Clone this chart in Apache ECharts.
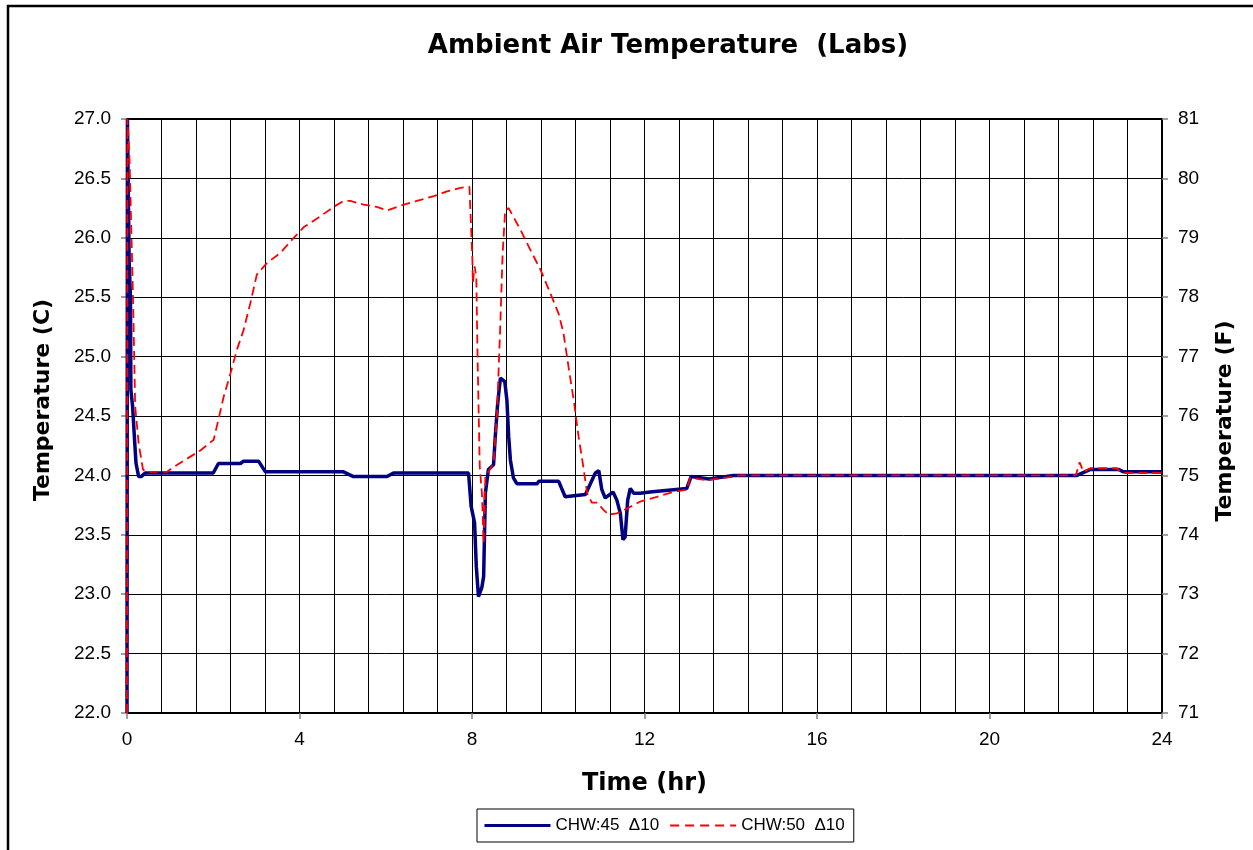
<!DOCTYPE html>
<html>
<head>
<meta charset="utf-8">
<script src="https://cdn.jsdelivr.net/npm/echarts@6/dist/echarts.min.js"></script>
<style>
html,body{margin:0;padding:0;background:#fff;}
#chart{width:1253px;height:850px;}
</style>
</head>
<body>
<div id="chart"></div>
<script>
// ---- data (time in hours, temperature in C) ----
var chartTitle = 'Ambient Air Temperature  (Labs)';
var seriesNames = ['CHW:45  \u039410', 'CHW:50  \u039410'];
var xTickLabels = [0, 4, 8, 12, 16, 20, 24];
var leftTickLabels = [22.0, 22.5, 23.0, 23.5, 24.0, 24.5, 25.0, 25.5, 26.0, 26.5, 27.0];
var rightTickLabels = [71, 72, 73, 74, 75, 76, 77, 78, 79, 80, 81];

var chw45 = [
  [0,22],[0.01,27],[0.05,25.8],[0.08,25.5],[0.09,24.72],[0.13,24.58],[0.18,24.27],[0.21,24.1],
  [0.27,23.99],[0.33,23.99],[0.42,24.02],[2.0,24.02],[2.12,24.1],[2.63,24.1],[2.7,24.12],[3.05,24.12],
  [3.21,24.03],[5.02,24.03],[5.25,23.99],[6.03,23.99],[6.18,24.02],[7.92,24.02],[7.98,23.74],[8.06,23.6],
  [8.1,23.23],[8.15,22.98],[8.23,23.06],[8.27,23.15],[8.31,23.85],[8.38,24.05],[8.5,24.09],[8.54,24.33],
  [8.59,24.58],[8.62,24.69],[8.66,24.82],[8.76,24.79],[8.81,24.63],[8.85,24.33],[8.89,24.13],[8.96,23.98],
  [9.04,23.93],[9.51,23.93],[9.55,23.95],[10.01,23.95],[10.16,23.82],[10.63,23.84],[10.86,24.02],[10.94,24.04],
  [11.01,23.88],[11.09,23.81],[11.27,23.86],[11.36,23.79],[11.44,23.68],[11.5,23.46],[11.55,23.48],[11.61,23.79],
  [11.67,23.89],[11.75,23.85],[11.9,23.85],[12.13,23.86],[12.67,23.88],[12.98,23.89],[13.08,23.99],[13.5,23.97],
  [14.06,24.0],[22.03,24.0],[22.34,24.05],[22.99,24.05],[23.11,24.03],[24,24.03]
];

var chw50 = [
  [0,22],[0.01,27],[0.06,26.65],[0.14,25.48],[0.19,24.58],[0.27,24.27],[0.37,24.05],[0.45,24.03],
  [0.93,24.03],[1.04,24.06],[1.39,24.14],[1.7,24.21],[2.01,24.3],[2.12,24.47],[2.24,24.66],[2.4,24.86],
  [2.55,25.06],[2.7,25.22],[2.86,25.45],[3.01,25.69],[3.25,25.79],[3.55,25.87],[3.79,25.97],[4.1,26.09],
  [4.48,26.18],[4.79,26.26],[5.02,26.31],[5.18,26.31],[5.49,26.28],[5.79,26.26],[6.03,26.23],[6.34,26.27],
  [6.72,26.31],[7.11,26.35],[7.42,26.39],[7.73,26.42],[7.94,26.43],[7.96,26.43],[8.01,25.81],[8.02,25.62],
  [8.06,25.76],[8.1,25.67],[8.13,24.97],[8.18,24.07],[8.23,23.85],[8.27,23.43],[8.31,23.99],[8.5,24.1],
  [8.58,24.52],[8.62,24.91],[8.66,25.31],[8.71,25.87],[8.77,26.23],[8.85,26.25],[9.12,26.07],[9.35,25.9],
  [9.59,25.73],[9.82,25.53],[10.01,25.36],[10.12,25.2],[10.24,24.91],[10.36,24.63],[10.47,24.33],[10.57,24.1],
  [10.67,23.85],[10.78,23.77],[10.9,23.77],[11.05,23.71],[11.17,23.67],[11.36,23.68],[11.59,23.72],[11.9,23.78],
  [12.29,23.82],[12.67,23.86],[12.98,23.88],[13.06,23.98],[13.45,23.96],[14.07,23.99],[14.2,24.0],[22.0,24.0],
  [22.09,24.11],[22.18,24.03],[22.34,24.06],[22.95,24.06],[23.07,24.02],[24,24.02]
];

var FONT = "'Liberation Sans', Arial, sans-serif";
var BOLD = "'DejaVu Sans', 'Liberation Sans', Arial, sans-serif";

var chart = echarts.init(document.getElementById('chart'), null, {renderer: 'canvas'});
chart.setOption({
  animation: false,
  backgroundColor: '#ffffff',
  title: {
    text: chartTitle,
    left: 668,
    textAlign: 'center',
    top: 33,
    padding: 0,
    textStyle: {fontFamily: BOLD, fontWeight: 'bold', fontSize: 26, color: '#000'}
  },
  graphic: [{
    type: 'rect',
    shape: {x: 8, y: 6, width: 1400, height: 1000},
    style: {fill: 'none', stroke: '#000', lineWidth: 2.5},
    silent: true,
    z: -10
  }],
  legend: {
    left: 477,
    top: 809,
    orient: 'horizontal',
    padding: [8, 9, 8, 6],
    itemGap: 10,
    itemWidth: 66,
    itemHeight: 14,
    borderColor: '#000',
    borderWidth: 1,
    itemStyle: {color: 'rgba(0,0,0,0)', borderColor: 'rgba(0,0,0,0)', borderWidth: 0},
    textStyle: {fontFamily: FONT, fontSize: 17, color: '#000'},
    data: [
      {name: seriesNames[0], lineStyle: {width: 3, color: '#000080', type: 'solid'}},
      {name: seriesNames[1], lineStyle: {width: 2, color: '#ff0000', type: [9, 6]}}
    ]
  },
  grid: {
    left: 127, right: 91, top: 119, bottom: 137,
    show: true, borderColor: '#000', borderWidth: 2, backgroundColor: '#fff'
  },
  xAxis: {
    type: 'value',
    min: xTickLabels[0], max: xTickLabels[xTickLabels.length - 1], interval: 4,
    name: 'Time (hr)', nameLocation: 'middle', nameGap: 59,
    nameTextStyle: {fontFamily: BOLD, fontWeight: 'bold', fontSize: 24, color: '#000'},
    axisLine: {show: true, onZero: false, lineStyle: {color: '#000', width: 2}},
    axisTick: {show: true, length: 6, lineStyle: {color: '#808080', width: 1.5}},
    minorTick: {show: false, splitNumber: 5},
    minorSplitLine: {show: true, lineStyle: {color: '#000', width: 1}},
    splitLine: {show: true, lineStyle: {color: '#000', width: 1}},
    axisLabel: {fontFamily: FONT, fontSize: 19, color: '#000', margin: 17}
  },
  yAxis: [{
    type: 'value', position: 'left',
    min: leftTickLabels[0], max: leftTickLabels[leftTickLabels.length - 1], interval: 0.5,
    name: 'Temperature (C)', nameLocation: 'middle', nameGap: 73,
    nameTextStyle: {fontFamily: BOLD, fontWeight: 'bold', fontSize: 22, color: '#000', padding: [0, 0, 0, 32]},
    axisLine: {show: true, lineStyle: {color: '#000', width: 2}},
    axisTick: {show: true, length: 6, lineStyle: {color: '#808080', width: 1.5}},
    splitLine: {show: true, lineStyle: {color: '#000', width: 1}},
    axisLabel: {fontFamily: FONT, fontSize: 19, color: '#000', margin: 16,
      formatter: function (v) { return v.toFixed(1); }}
  }, {
    type: 'value', position: 'right',
    min: rightTickLabels[0], max: rightTickLabels[rightTickLabels.length - 1], interval: 1,
    name: 'Temperature (F)', nameLocation: 'middle', nameGap: 52,
    nameTextStyle: {fontFamily: BOLD, fontWeight: 'bold', fontSize: 22, color: '#000', padding: [0, 10, 0, 0]},
    axisLine: {show: true, lineStyle: {color: '#000', width: 2}},
    axisTick: {show: true, length: 6, lineStyle: {color: '#808080', width: 1.5}},
    splitLine: {show: false},
    axisLabel: {fontFamily: FONT, fontSize: 19, color: '#000', margin: 16}
  }],
  series: [{
    name: seriesNames[0],
    type: 'line',
    yAxisIndex: 0,
    data: chw45,
    symbol: 'none',
    showSymbol: false,
    lineStyle: {color: '#000080', width: 3.5, type: 'solid'},
    itemStyle: {color: '#000080'},
    z: 3
  }, {
    name: seriesNames[1],
    type: 'line',
    yAxisIndex: 0,
    data: chw50,
    symbol: 'none',
    showSymbol: false,
    lineStyle: {color: '#ff0000', width: 1.8, type: [9, 5]},
    itemStyle: {color: '#ff0000'},
    z: 4
  }]
});
</script>
</body>
</html>
